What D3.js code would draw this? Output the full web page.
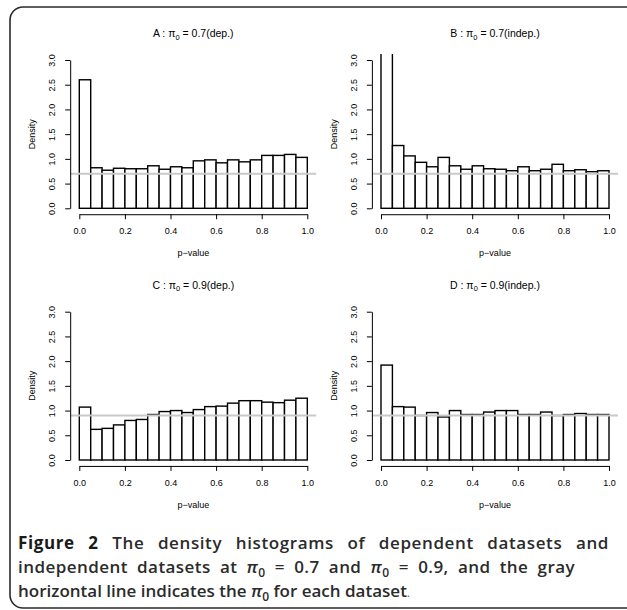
<!DOCTYPE html>
<html>
<head>
<meta charset="utf-8">
<script src="https://cdn.jsdelivr.net/npm/d3@7"></script>
<style>
  body { margin: 0; background: #fff; }
  svg { display: block; }
</style>
</head>
<body>
<svg id="fig" width="627" height="610"></svg>
<script>
// Histogram bin edges (p-value)
const binEdges = [0, 0.05, 0.1, 0.15, 0.2, 0.25, 0.3, 0.35, 0.4, 0.45, 0.5,
                  0.55, 0.6, 0.65, 0.7, 0.75, 0.8, 0.85, 0.9, 0.95, 1.0];

// Density per bin for each dataset
const densityA = [2.60, 0.82, 0.77, 0.81, 0.80, 0.80, 0.86, 0.79, 0.84, 0.82,
                  0.96, 0.98, 0.92, 0.98, 0.94, 0.98, 1.07, 1.07, 1.09, 1.03];
const densityB = [3.70, 1.27, 1.06, 0.93, 0.84, 1.03, 0.86, 0.79, 0.86, 0.80,
                  0.79, 0.76, 0.84, 0.76, 0.79, 0.89, 0.76, 0.78, 0.74, 0.76];
const densityC = [1.07, 0.62, 0.64, 0.71, 0.80, 0.82, 0.92, 0.98, 1.00, 0.96,
                  1.02, 1.08, 1.09, 1.15, 1.20, 1.20, 1.17, 1.16, 1.21, 1.25];
const densityD = [1.92, 1.08, 1.07, 0.90, 0.96, 0.87, 1.00, 0.92, 0.92, 0.97,
                  1.00, 1.00, 0.92, 0.92, 0.97, 0.90, 0.92, 0.94, 0.92, 0.92];

const panelLetters = ["A", "B", "C", "D"];
const panelPi0 = [0.7, 0.7, 0.9, 0.9];
const panelKind = ["dep.", "indep.", "dep.", "indep."];
const panelDensities = [densityA, densityB, densityC, densityD];

const xTicks = [0, 0.2, 0.4, 0.6, 0.8, 1.0];
const yTicks = [0, 0.5, 1.0, 1.5, 2.0, 2.5, 3.0];

const svg = d3.select("#fig");
const RFONT = "'Liberation Sans', Arial, Helvetica, sans-serif";

// Card frame
svg.append("rect")
  .attr("x", 10).attr("y", 7)
  .attr("width", 630).attr("height", 601)
  .attr("rx", 13).attr("ry", 13)
  .attr("fill", "none")
  .attr("stroke", "#2a2a2a")
  .attr("stroke-width", 1.6);

const colOffset = [0, 301.7];
const rowOffset = [0, 251.7];

panelLetters.forEach((letter, i) => {
  const dx = colOffset[i % 2];
  const dy = rowOffset[Math.floor(i / 2)];
  const dens = panelDensities[i];

  const x = d3.scaleLinear().domain([0, 1]).range([79.3 + dx, 307.3 + dx]);
  const y = d3.scaleLinear().domain([0, 3]).range([208.3 + dy, 60 + dy]);

  // plot region, R-style 4% padding
  const px0 = x(-0.04), px1 = x(1.04);
  const py0 = y(-0.12), py1 = y(3.12);

  const g = svg.append("g");
  const clipId = "clip" + letter;
  g.append("clipPath").attr("id", clipId)
    .append("rect")
    .attr("x", px0).attr("y", py1)
    .attr("width", px1 - px0).attr("height", py0 - py1);

  const plot = g.append("g").attr("clip-path", `url(#${clipId})`);

  // bars
  plot.selectAll("rect.bar")
    .data(dens)
    .join("rect")
    .attr("class", "bar")
    .attr("x", (d, k) => x(binEdges[k]))
    .attr("width", (d, k) => x(binEdges[k + 1]) - x(binEdges[k]))
    .attr("y", d => y(d))
    .attr("height", d => y(0) - y(d))
    .attr("fill", "#fff")
    .attr("stroke", "#000")
    .attr("stroke-width", 1.4);

  // pi0 reference line
  plot.append("line")
    .attr("x1", px0).attr("x2", px1)
    .attr("y1", y(panelPi0[i])).attr("y2", y(panelPi0[i]))
    .attr("stroke", "#c9c9c9")
    .attr("stroke-width", 2);

  // y axis
  const yAxis = g.append("g")
    .attr("transform", `translate(${px0},0)`)
    .call(d3.axisLeft(y).tickValues(yTicks).tickSize(5).tickSizeOuter(0)
      .tickFormat(d3.format(".1f")));
  yAxis.selectAll("text")
    .attr("transform", "rotate(-90)")
    .attr("x", 0).attr("y", -15).attr("dy", 0)
    .attr("text-anchor", "middle");

  // x axis
  const xAxis = g.append("g")
    .attr("transform", `translate(0,${py0})`)
    .call(d3.axisBottom(x).tickValues(xTicks).tickSize(5).tickSizeOuter(0)
      .tickFormat(d3.format(".1f")));
  xAxis.selectAll("text").attr("y", 20).attr("dy", 0);

  [yAxis, xAxis].forEach(ax => {
    ax.attr("font-family", RFONT).attr("font-size", 9);
    ax.selectAll("path, line").attr("stroke", "#000").attr("stroke-width", 1);
    ax.selectAll("text").attr("fill", "#000");
  });

  // axis titles
  g.append("text")
    .attr("x", (px0 + px1) / 2).attr("y", 256 + dy)
    .attr("text-anchor", "middle")
    .attr("font-family", RFONT).attr("font-size", 9)
    .text("p\u2212value");

  g.append("text")
    .attr("transform", `translate(${35 + dx},${(y(0) + y(3)) / 2}) rotate(-90)`)
    .attr("text-anchor", "middle")
    .attr("font-family", RFONT).attr("font-size", 9)
    .text("Density");

  // panel title: "A : π0 = 0.7(dep.)"
  const t = g.append("text")
    .attr("x", (px0 + px1) / 2).attr("y", 37 + dy)
    .attr("text-anchor", "middle")
    .attr("font-family", RFONT).attr("font-size", 10.5);
  t.append("tspan").text(`${letter} : \u03c0`);
  t.append("tspan").attr("font-size", 7.5).attr("dy", 2.5).text("0");
  t.append("tspan").attr("dy", -2.5).text(` = ${panelPi0[i].toFixed(1)}(${panelKind[i]})`);
});

// Caption
const CAPFONT = "'Open Sans', 'Noto Sans', sans-serif";
const cap = svg.append("g")
  .attr("font-family", CAPFONT)
  .attr("font-size", 17)
  .attr("font-weight", 600)
  .attr("fill", "#2b2b2b");

// italic pi with subscript 0; the following run is shifted back to the baseline
function piSub(textEl, after) {
  textEl.append("tspan").attr("font-style", "italic").text("\u03c0");
  textEl.append("tspan").attr("font-size", 12).attr("dy", 3.5).text("0");
  textEl.append("tspan").attr("dy", -3.5).text(after);
}

const l1 = cap.append("text").attr("x", 18).attr("y", 549);
l1.append("tspan").attr("font-weight", 700).attr("fill", "#1a1a1a").text("Figure 2");
l1.append("tspan").text(" The density histograms of dependent datasets and");

const l2 = cap.append("text").attr("x", 18).attr("y", 573);
l2.append("tspan").text("independent datasets at ");
piSub(l2, " = 0.7 and ");
piSub(l2, " = 0.9, and the gray");

const l3 = cap.append("text").attr("x", 18).attr("y", 597);
l3.append("tspan").text("horizontal line indicates the ");
piSub(l3, " for each dataset");
l3.append("tspan").attr("font-weight", 400).attr("font-size", 12)
  .attr("fill", "#666").text(".");

// justify a caption line: a third of the extra room goes between letters,
// the rest into the word gaps
function spreadLine(textSel, targetWidth) {
  const node = textSel.node();
  const txt = node.textContent;
  const gaps = (txt.match(/ /g) || []).length;
  const extra = targetWidth - node.getComputedTextLength();
  if (extra <= 0) return;
  textSel.attr("letter-spacing", (extra / 3) / txt.length);
  const rest = targetWidth - node.getComputedTextLength();
  if (gaps > 0 && rest > 0) textSel.attr("word-spacing", rest / gaps);
}
spreadLine(l1, 591);
spreadLine(l2, 557);
</script>
</body>
</html>
